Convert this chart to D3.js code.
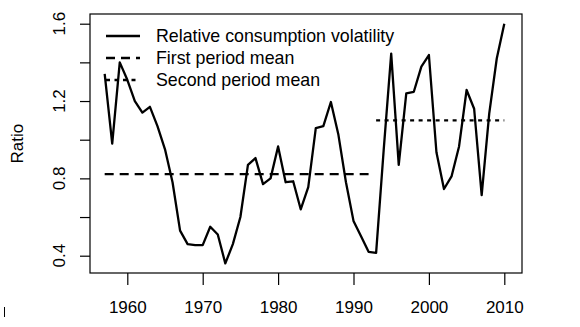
<!DOCTYPE html>
<html>
<head>
<meta charset="utf-8">
<script src="https://cdn.jsdelivr.net/npm/d3@7"></script>
<style>
  body { margin: 0; background: #fff; }
  svg { display: block; font-family: "Liberation Sans", Arial, sans-serif; }
</style>
</head>
<body>
<svg id="chart" width="580" height="327"></svg>
<script>
// years and ratio values
const years = d3.range(1957, 2011);
const ratio = [
  1.34, 0.98, 1.40, 1.31, 1.20, 1.14, 1.17, 1.07, 0.95, 0.78,
  0.53, 0.46, 0.455, 0.455, 0.55, 0.51, 0.36, 0.46, 0.60, 0.87,
  0.905, 0.77, 0.80, 0.965, 0.78, 0.785, 0.64, 0.755, 1.06, 1.07,
  1.195, 1.025, 0.78, 0.58, 0.50, 0.42, 0.415, 0.945, 1.445, 0.87,
  1.24, 1.248, 1.378, 1.438, 0.935, 0.745, 0.81, 0.965, 1.257, 1.16,
  0.713, 1.135, 1.42, 1.60
];
const firstMean = [1957, 1992, 0.822];
const secondMean = [1993, 2010, 1.10];
const xTicks = [1960, 1970, 1980, 1990, 2000, 2010];
const yTicks = [0.4, 0.8, 1.2, 1.6];
const yMinor = [0.4, 0.6, 0.8, 1.0, 1.2, 1.4, 1.6];
const legendLabels = ['Relative consumption volatility', 'First period mean', 'Second period mean'];
const legendDash = [null, '9,6', '4,4.5'];

const svg = d3.select('#chart');
const box = { left: 90, right: 522, top: 14, bottom: 273 };

const x = d3.scaleLinear().domain([1960, 2010]).range([127.3, 504.3]);
const y = d3.scaleLinear().domain([0.4, 1.6]).range([255.7, 23.7]);

// plot frame
svg.append('rect')
  .attr('x', box.left).attr('y', box.top)
  .attr('width', box.right - box.left).attr('height', box.bottom - box.top)
  .attr('fill', 'none').attr('stroke', '#000').attr('stroke-width', 1.2);

// x axis
const xAxis = svg.append('g')
  .attr('transform', `translate(0,${box.bottom})`)
  .call(d3.axisBottom(x).tickValues(xTicks).tickFormat(d3.format('d')).tickSize(12).tickPadding(16));
xAxis.select('.domain').remove();
xAxis.selectAll('line').attr('stroke-width', 1.2);
xAxis.selectAll('text').attr('font-size', 17).attr('fill', '#000')
  .attr('font-family', '"Liberation Sans", Arial, sans-serif');

// y axis: ticks at every 0.2, labels at every 0.4 rotated
const yAxis = svg.append('g')
  .attr('transform', `translate(${box.left},0)`)
  .call(d3.axisLeft(y).tickValues(yMinor).tickSize(10).tickFormat(''));
yAxis.select('.domain').remove();
yAxis.selectAll('line').attr('stroke-width', 1.2);

svg.append('g').selectAll('text')
  .data(yTicks)
  .enter()
  .append('text')
  .attr('transform', d => `translate(65,${y(d)}) rotate(-90)`)
  .attr('text-anchor', 'middle')
  .attr('font-size', 17)
  .text(d => d.toFixed(1));

svg.append('text')
  .attr('transform', `translate(22.5,${y(1.0) + 4}) rotate(-90)`)
  .attr('text-anchor', 'middle')
  .attr('font-size', 17)
  .text('Ratio');

// stray mark at the lower left
svg.append('line')
  .attr('x1', 4.5).attr('x2', 4.5).attr('y1', 307).attr('y2', 317)
  .attr('stroke', '#000').attr('stroke-width', 1);

// mean lines
const meanLine = (m, dash) => {
  svg.append('line')
    .attr('x1', x(m[0])).attr('x2', x(m[1]))
    .attr('y1', y(m[2])).attr('y2', y(m[2]))
    .attr('stroke', '#000').attr('stroke-width', 2.3)
    .attr('stroke-dasharray', dash);
};
meanLine(firstMean, legendDash[1]);
meanLine(secondMean, legendDash[2]);

// main series
const line = d3.line()
  .x((d, i) => x(years[i]))
  .y(d => y(d));

svg.append('path')
  .datum(ratio)
  .attr('d', line)
  .attr('fill', 'none')
  .attr('stroke', '#000')
  .attr('stroke-width', 2.3)
  .attr('stroke-linejoin', 'round');

// legend
const legend = svg.append('g');
legendLabels.forEach((lab, i) => {
  const ly = 36 + i * 22;
  legend.append('line')
    .attr('x1', 106).attr('x2', 140)
    .attr('y1', ly).attr('y2', ly)
    .attr('stroke', '#000').attr('stroke-width', 2.3)
    .attr('stroke-dasharray', legendDash[i]);
  legend.append('text')
    .attr('x', 156).attr('y', ly + 6.3)
    .attr('font-size', 17.8)
    .text(lab);
});
</script>
</body>
</html>
